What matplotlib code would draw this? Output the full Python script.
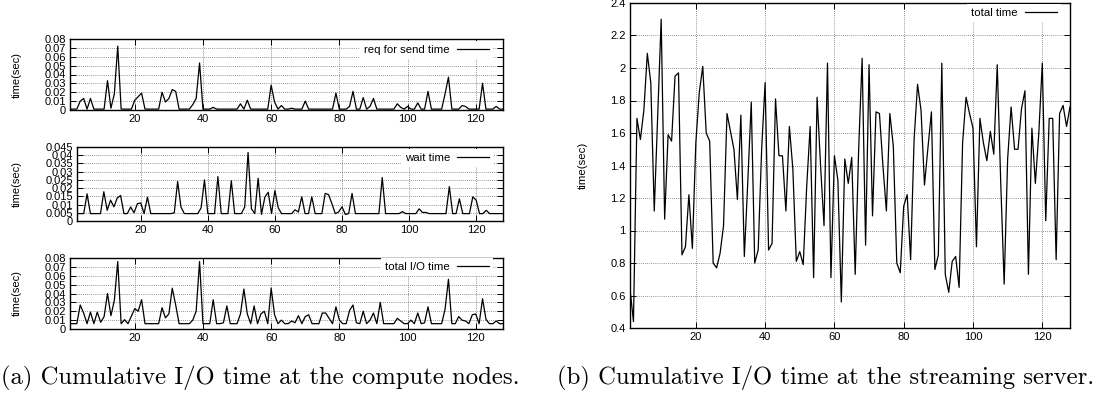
import numpy as np
import matplotlib
matplotlib.use("Agg")
import matplotlib.pyplot as plt
from matplotlib.ticker import FixedLocator, FuncFormatter

# ---------------- data ----------------
x = list(range(1, 129))

req_for_send = [
    0.001, 0.001, 0.001, 0.010, 0.013, 0.001, 0.013, 0.001, 0.001, 0.001,
    0.001, 0.033, 0.002, 0.018, 0.072, 0.001, 0.001, 0.001, 0.001, 0.011,
    0.015, 0.019, 0.001, 0.001, 0.001, 0.001, 0.001, 0.020, 0.009, 0.013,
    0.023, 0.021, 0.001, 0.001, 0.001, 0.001, 0.006, 0.013, 0.053, 0.001,
    0.001, 0.001, 0.003, 0.001, 0.001, 0.001, 0.001, 0.001, 0.001, 0.001,
    0.007, 0.001, 0.011, 0.001, 0.001, 0.001, 0.001, 0.001, 0.001, 0.028,
    0.009, 0.001, 0.005, 0.001, 0.001, 0.002, 0.001, 0.001, 0.001, 0.010,
    0.001, 0.001, 0.001, 0.001, 0.001, 0.001, 0.001, 0.001, 0.019, 0.001,
    0.001, 0.001, 0.004, 0.021, 0.001, 0.001, 0.014, 0.001, 0.004, 0.013,
    0.001, 0.001, 0.001, 0.001, 0.001, 0.001, 0.007, 0.003, 0.001, 0.004,
    0.001, 0.001, 0.008, 0.001, 0.001, 0.021, 0.001, 0.001, 0.001, 0.001,
    0.018, 0.037, 0.001, 0.001, 0.001, 0.005, 0.004, 0.001, 0.001, 0.001,
    0.001, 0.030, 0.001, 0.001, 0.001, 0.004, 0.001, 0.001,
]

wait_time = [
    0.0045, 0.0045, 0.0045, 0.0165, 0.0045, 0.0045, 0.0045, 0.0045, 0.0178, 0.0065,
    0.0127, 0.0086, 0.0140, 0.0155, 0.0045, 0.0045, 0.0085, 0.0050, 0.0105, 0.0110,
    0.0045, 0.0145, 0.0045, 0.0045, 0.0045, 0.0045, 0.0045, 0.0045, 0.0045, 0.0050,
    0.0240, 0.0085, 0.0045, 0.0045, 0.0045, 0.0045, 0.0045, 0.0080, 0.0250, 0.0045,
    0.0045, 0.0045, 0.0270, 0.0045, 0.0045, 0.0045, 0.0245, 0.0045, 0.0045, 0.0045,
    0.0085, 0.0417, 0.0075, 0.0045, 0.0260, 0.0040, 0.0145, 0.0175, 0.0045, 0.0185,
    0.0080, 0.0045, 0.0045, 0.0045, 0.0045, 0.0068, 0.0055, 0.0147, 0.0045, 0.0045,
    0.0147, 0.0045, 0.0045, 0.0045, 0.0168, 0.0160, 0.0105, 0.0045, 0.0055, 0.0086,
    0.0040, 0.0045, 0.0168, 0.0045, 0.0045, 0.0045, 0.0045, 0.0045, 0.0045, 0.0045,
    0.0045, 0.0264, 0.0045, 0.0045, 0.0045, 0.0045, 0.0045, 0.0057, 0.0045, 0.0045,
    0.0045, 0.0045, 0.0074, 0.0052, 0.0052, 0.0045, 0.0045, 0.0045, 0.0045, 0.0045,
    0.0045, 0.0209, 0.0045, 0.0045, 0.0135, 0.0045, 0.0045, 0.0045, 0.0147, 0.0127,
    0.0045, 0.0045, 0.0065, 0.0045, 0.0045, 0.0045, 0.0045, 0.0045,
]

total_io = [
    0.006, 0.006, 0.006, 0.027, 0.018, 0.006, 0.019, 0.006, 0.019, 0.0075,
    0.014, 0.040, 0.015, 0.032, 0.076, 0.006, 0.0105, 0.006, 0.0145, 0.023,
    0.020, 0.033, 0.006, 0.006, 0.006, 0.006, 0.006, 0.024, 0.0125, 0.017,
    0.046, 0.027, 0.006, 0.006, 0.006, 0.006, 0.010, 0.020, 0.076, 0.006,
    0.006, 0.006, 0.033, 0.006, 0.006, 0.007, 0.026, 0.006, 0.006, 0.006,
    0.017, 0.045, 0.017, 0.006, 0.026, 0.006, 0.017, 0.020, 0.006, 0.046,
    0.016, 0.006, 0.010, 0.006, 0.006, 0.009, 0.007, 0.015, 0.006, 0.014,
    0.016, 0.006, 0.006, 0.006, 0.018, 0.018, 0.012, 0.006, 0.025, 0.010,
    0.006, 0.006, 0.021, 0.027, 0.007, 0.006, 0.020, 0.006, 0.010, 0.018,
    0.006, 0.030, 0.006, 0.006, 0.006, 0.006, 0.012, 0.009, 0.006, 0.006,
    0.010, 0.006, 0.018, 0.006, 0.007, 0.025, 0.006, 0.006, 0.006, 0.006,
    0.022, 0.056, 0.006, 0.006, 0.014, 0.010, 0.009, 0.006, 0.016, 0.017,
    0.006, 0.034, 0.011, 0.006, 0.006, 0.009, 0.006, 0.006,
]

server_total = [
    0.64, 0.44, 1.69, 1.56, 1.74, 2.09, 1.91, 1.12, 1.71, 2.30,
    1.07, 1.59, 1.55, 1.95, 1.97, 0.85, 0.90, 1.22, 0.89, 1.54,
    1.85, 2.01, 1.60, 1.55, 0.80, 0.77, 0.86, 1.03, 1.72, 1.61,
    1.50, 1.19, 1.71, 0.84, 1.30, 1.79, 0.80, 0.88, 1.50, 1.91,
    0.88, 0.92, 1.81, 1.46, 1.46, 1.12, 1.64, 1.38, 0.81, 0.87,
    0.79, 1.27, 1.64, 0.71, 1.82, 1.40, 1.03, 2.03, 0.71, 1.46,
    1.31, 0.56, 1.44, 1.29, 1.45, 0.73, 1.50, 2.06, 0.91, 2.02,
    1.09, 1.73, 1.72, 1.40, 1.12, 1.72, 1.52, 0.80, 0.74, 1.15,
    1.22, 0.82, 1.56, 1.90, 1.74, 1.28, 1.51, 1.73, 0.76, 0.85,
    2.03, 0.73, 0.62, 0.81, 0.84, 0.65, 1.54, 1.82, 1.72, 1.63,
    0.90, 1.69, 1.54, 1.43, 1.61, 1.47, 2.02, 1.30, 0.67, 1.44,
    1.76, 1.50, 1.50, 1.75, 1.86, 0.73, 1.63, 1.29, 1.60, 2.03,
    1.06, 1.69, 1.69, 0.82, 1.72, 1.77, 1.64, 1.76,
]

xticks = [20, 40, 60, 80, 100, 120]
yticks_req = [0, 0.01, 0.02, 0.03, 0.04, 0.05, 0.06, 0.07, 0.08]
yticks_wait = [0, 0.005, 0.01, 0.015, 0.02, 0.025, 0.03, 0.035, 0.04, 0.045]
yticks_total = [0, 0.01, 0.02, 0.03, 0.04, 0.05, 0.06, 0.07, 0.08]
yticks_server = [0.4, 0.6, 0.8, 1.0, 1.2, 1.4, 1.6, 1.8, 2.0, 2.2, 2.4]

label_req = "req for send time"
label_wait = "wait time"
label_total = "total I/O time"
label_server = "total time"
ylabel = "time(sec)"
caption_a = "(a) Cumulative I/O time at the compute nodes."
caption_b = "(b) Cumulative I/O time at the streaming server."

# ---------------- style ----------------
plt.rcParams['font.family'] = ['Liberation Sans', 'DejaVu Sans']
W, H = 1096, 397
fig = plt.figure(figsize=(W / 100, H / 100), dpi=100)


def rect(l, r, t, b):
    return [l / W, (H - b) / H, (r - l) / W, (b - t) / H]


gfmt = FuncFormatter(lambda v, p: f"{round(v, 4):g}")


def style(ax, yt, ylim, leg_label, leg_anchor, ylab_x, tick_fs, ylab_fs, leg_fs):
    ax.set_xlim(1, 128)
    ax.set_ylim(*ylim)
    ax.xaxis.set_major_locator(FixedLocator(xticks))
    ax.yaxis.set_major_locator(FixedLocator(yt))
    ax.yaxis.set_major_formatter(gfmt)
    ax.xaxis.set_major_formatter(gfmt)
    ax.tick_params(direction='in', length=4, width=0.7, top=True, right=True,
                   labelsize=tick_fs, pad=3, colors='black')
    ax.grid(True, linestyle=(0, (1, 1.5)), color='#6f6f6f', linewidth=0.6)
    ax.set_axisbelow(True)
    for s in ax.spines.values():
        s.set_linewidth(1.0)
    ax.set_ylabel(ylabel, fontsize=ylab_fs)
    ax.yaxis.set_label_coords(ylab_x, 0.5)
    leg = ax.legend([ax.lines[0]], [leg_label], loc='center right',
                    bbox_to_anchor=leg_anchor, markerfirst=False,
                    frameon=True, framealpha=1, facecolor='white',
                    edgecolor='none', fontsize=leg_fs, handlelength=2.8,
                    handletextpad=0.6, borderpad=0.35, borderaxespad=0,
                    fancybox=False)
    leg.get_frame().set_linewidth(0)


lw = 0.9
# top-left: req for send time
ax1 = fig.add_axes(rect(70, 503, 39, 110))
ax1.plot(x, req_for_send, color='black', lw=lw)
style(ax1, yticks_req, (0, 0.08), label_req, (0.976, 0.845), -0.112, 8, 8, 8.2)

# middle-left: wait time
ax2 = fig.add_axes(rect(77, 503, 147, 221))
ax2.plot(x, wait_time, color='black', lw=lw)
style(ax2, yticks_wait, (0, 0.045), label_wait, (0.9756, 0.85), -0.130, 8, 8, 8.2)

# bottom-left: total I/O time
ax3 = fig.add_axes(rect(70, 503, 258, 329))
ax3.plot(x, total_io, color='black', lw=lw)
style(ax3, yticks_total, (0, 0.08), label_total, (0.976, 0.873), -0.112, 8, 8, 8.2)

# right: streaming server
ax4 = fig.add_axes(rect(630, 1070, 3, 328))
ax4.plot(x, server_total, color='black', lw=lw)
style(ax4, yticks_server, (0.4, 2.4), label_server, (0.9787, 0.968), -0.095, 8, 8.2, 8.2)

# captions
fig.text(1 / W, (H - 378) / H, caption_a, fontfamily='cmr10', fontsize=17.8,
         ha='left', va='center')
fig.text(1094 / W, (H - 378) / H, caption_b, fontfamily='cmr10', fontsize=17.8,
         ha='right', va='center')

fig.savefig("out.png", dpi=100)
